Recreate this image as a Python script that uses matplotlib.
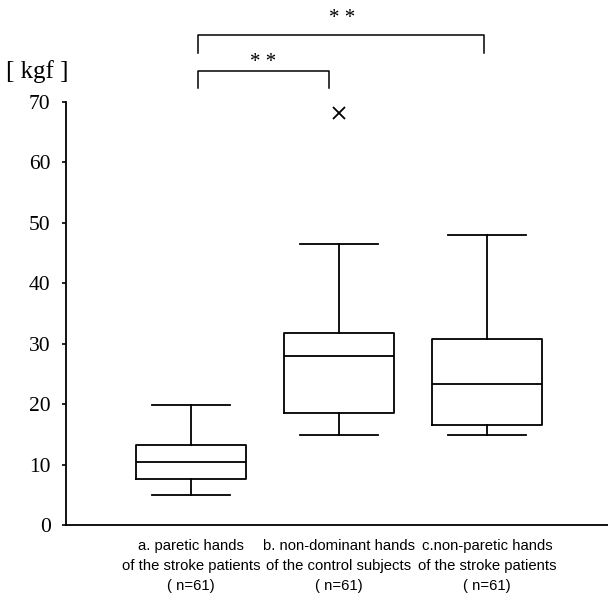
import matplotlib
matplotlib.use("Agg")
import matplotlib.pyplot as plt

categories = ["a. paretic hands\nof the stroke patients\n( n=61)",
              "b. non-dominant hands\nof the control subjects\n( n=61)",
              "c.non-paretic hands\nof the stroke patients\n( n=61)"]
whislo = [4.9, 14.9, 14.9]
q1 = [7.6, 18.6, 16.6]
med = [10.5, 27.9, 23.3]
q3 = [13.3, 31.7, 30.7]
whishi = [19.8, 46.5, 48.0]
fliers = [[], [68.2], []]
yticks = [0, 10, 20, 30, 40, 50, 60, 70]

fig = plt.figure(figsize=(6.08, 5.96), dpi=100)
ax = fig.add_axes([66/608, (596-525)/596, 1 - 66/608, (525-102)/596])

stats = []
for i in range(3):
    stats.append(dict(whislo=whislo[i], q1=q1[i], med=med[i], q3=q3[i],
                      whishi=whishi[i], fliers=fliers[i], label=categories[i]))

lw = 1.3
ax.bxp(stats, positions=[1, 2, 3], widths=0.745, capwidths=0.53,
       showfliers=True, patch_artist=False,
       boxprops=dict(color="black", linewidth=lw),
       whiskerprops=dict(color="black", linewidth=lw),
       capprops=dict(color="black", linewidth=lw),
       medianprops=dict(color="black", linewidth=lw),
       flierprops=dict(marker="x", markersize=9, markeredgecolor="black",
                       markeredgewidth=1.3, linestyle="none"))

ax.set_xlim(1 - 125/148, 3 + 121/148)
ax.set_ylim(0, 70)
ax.set_yticks(yticks)
ax.set_yticklabels([str(t) for t in yticks], fontfamily="Liberation Serif", fontsize=15.5)
ax.tick_params(axis="y", length=3, width=1.2, pad=8, direction="out")
ax.tick_params(axis="x", length=0, pad=10)
for lab in ax.get_xticklabels():
    lab.set_fontfamily("Liberation Sans")
    lab.set_fontsize(10.7)
    lab.set_linespacing(1.55)

for s in ["top", "right"]:
    ax.spines[s].set_visible(False)
for s in ["left", "bottom"]:
    ax.spines[s].set_linewidth(1.3)

# y label
fig.text(37/608, 1 - 72/596, "[ kgf ]", fontfamily="Liberation Serif", fontsize=18,
         ha="center", va="center")

# significance brackets
ax.plot([1.047, 1.047, 2.98, 2.98], [78.1, 81.1, 81.1, 78.1], color="black",
        linewidth=1.1, clip_on=False)
ax.plot([1.047, 1.047, 1.93, 1.93], [72.3, 75.1, 75.1, 72.3], color="black",
        linewidth=1.1, clip_on=False)
ax.text(2.02, 83.9, "* *", ha="center", va="center", fontfamily="Liberation Serif",
        fontsize=15, clip_on=False)
ax.text(1.49, 76.6, "* *", ha="center", va="center", fontfamily="Liberation Serif",
        fontsize=15, clip_on=False)

fig.savefig("out.png", dpi=100)
